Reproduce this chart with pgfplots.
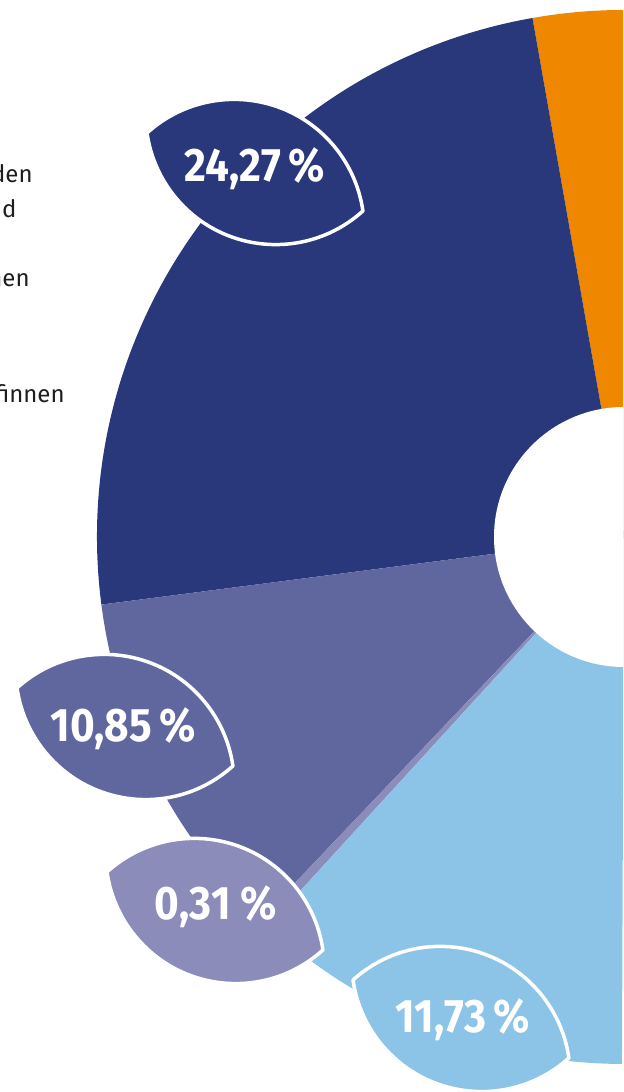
\documentclass[border=0pt]{standalone}
\usepackage{pgfplots}
\pgfplotsset{compat=1.18}
\usepackage{fontspec}
\setmainfont{Fira Sans}
\newfontfamily\labelfont[FakeStretch=0.9]{Fira Sans}

\definecolor{cOrange}{HTML}{F08700}
\definecolor{cNavy}{HTML}{29387A}
\definecolor{cPurple}{HTML}{5F679E}
\definecolor{cLilac}{HTML}{8B8CBA}
\definecolor{cSky}{HTML}{8CC4E8}
\definecolor{cText}{HTML}{1E1E1E}

% donut centre (px, y up) and radii in pt (1 px = 0.5 pt)
\def\cx{624}\def\cy{555}
\def\rout{263.5pt}\def\rin{65pt}

% slice: colour, start angle, end angle
\newcommand\slice[3]{%
  \fill[#1] (axis cs:\cx,\cy) -- ++(#2:\rout)
    arc[start angle=#2, end angle=#3, radius=\rout] -- cycle;}
% leaf label (lens of two circle arcs): colour, left tip x, left tip y
\newcommand\leaf[3]{%
  \filldraw[fill=#1, draw=white, line width=1.75pt, line join=round]
    (axis cs:#2,#3) arc[start angle=132.14, end angle=8.14, radius=65pt]
    arc[start angle=312.14, end angle=188.14, radius=65pt] -- cycle;}
\newcommand\pct{\labelfont\bfseries\fontsize{23.5}{26}\selectfont}

\begin{document}
\begin{tikzpicture}
\begin{axis}[
    x=0.5pt, y=0.5pt,
    xmin=0, xmax=623, ymin=0, ymax=1092,
    hide axis, clip=true,
]
\addplot[draw=none, forget plot] coordinates {(0,0) (623,1092)};

% shares in percent, clockwise from 100 deg
% orange (rest, mostly off picture), 24.27, 10.85, 0.31, 11.73
\slice{cOrange}{40}{100}
\slice{cNavy}{100}{100+24.27*3.6}
\slice{cPurple}{100+24.27*3.6}{100+35.12*3.6}
\slice{cLilac}{100+35.12*3.6}{100+35.43*3.6}
\slice{cSky}{100+35.43*3.6}{100+47.16*3.6}
\fill[white] (axis cs:\cx,\cy) circle[radius=\rin];

\leaf{cNavy}{147}{959}
\leaf{cPurple}{17}{404}
\leaf{cLilac}{107}{220}
\leaf{cSky}{353}{112}

\node[anchor=base, text=white, font=\pct] at (axis cs:255,910) {24,27\,\%};
\node[anchor=base, text=white, font=\pct] at (axis cs:123.5,350) {10,85\,\%};
\node[anchor=base, text=white, font=\pct] at (axis cs:216,172) {0,31 \%};
\node[anchor=base, text=white, font=\pct] at (axis cs:463,59) {11,73\,\%};

% legend text, cut off at the left edge as in the original
\node[anchor=base east, text=cText, font=\fontsize{12}{14}\selectfont, inner sep=0pt]
  at (axis cs:33,909) {Studierenden};
\node[anchor=base east, text=cText, font=\fontsize{12}{14}\selectfont, inner sep=0pt]
  at (axis cs:17,874) {und};
\node[anchor=base east, text=cText, font=\fontsize{12}{14}\selectfont, inner sep=0pt]
  at (axis cs:30,805) {Rentnerinnen};
\node[anchor=base east, text=cText, font=\fontsize{12}{14}\selectfont, inner sep=0pt]
  at (axis cs:65,689) {Chefinnen};
\end{axis}
\pgfresetboundingbox
\path[use as bounding box] (current axis.south west) rectangle (current axis.north east);
\end{tikzpicture}
\end{document}
